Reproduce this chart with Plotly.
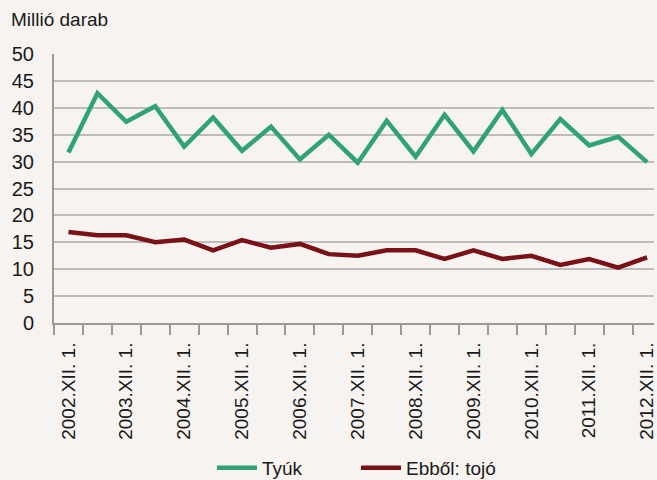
import plotly.graph_objects as go

categories = [
    "2002.XII. 1.", "2003.VI. 1.", "2003.XII. 1.", "2004.VI. 1.", "2004.XII. 1.",
    "2005.VI. 1.", "2005.XII. 1.", "2006.VI. 1.", "2006.XII. 1.", "2007.VI. 1.",
    "2007.XII. 1.", "2008.VI. 1.", "2008.XII. 1.", "2009.VI. 1.", "2009.XII. 1.",
    "2010.VI. 1.", "2010.XII. 1.", "2011.VI. 1.", "2011.XII. 1.", "2012.VI. 1.",
    "2012.XII. 1.",
]
tyuk = [31.7, 42.7, 37.4, 40.3, 32.8, 38.2, 32.0, 36.5, 30.4, 35.0,
        29.8, 37.6, 30.9, 38.7, 31.9, 39.6, 31.4, 37.9, 33.0, 34.6, 29.9]
tojo = [16.9, 16.3, 16.3, 15.0, 15.5, 13.5, 15.4, 14.0, 14.7, 12.8,
        12.5, 13.5, 13.5, 11.9, 13.5, 11.9, 12.5, 10.8, 11.9, 10.3, 12.2]
tick_text = [c if "XII" in c else "" for c in categories]
y_ticks = [0, 5, 10, 15, 20, 25, 30, 35, 40, 45, 50]

FONT = "Liberation Sans, Arial, sans-serif"
BG = "#f6f3f0"
TXT = "#1a1a1a"

fig = go.Figure()
fig.add_trace(go.Scatter(x=categories, y=tyuk, mode="lines", name="Tyúk",
                         line=dict(color="#2fa276", width=4.5)))
fig.add_trace(go.Scatter(x=categories, y=tojo, mode="lines", name="Ebből: tojó",
                         line=dict(color="#7a1116", width=4.5)))

fig.update_layout(
    width=657, height=480,
    paper_bgcolor=BG, plot_bgcolor=BG,
    font=dict(family=FONT, size=19, color=TXT),
    margin=dict(l=54, r=0, t=54, b=157),
    title=dict(text="Millió darab", x=11 / 657, xanchor="left",
               y=1 - 19 / 480, yanchor="middle", xref="container", yref="container",
               font=dict(family=FONT, size=19, color=TXT)),
    showlegend=True,
    legend=dict(orientation="h", xref="container", x=212 / 657, xanchor="left",
                y=12 / 480, yanchor="middle", yref="container",
                bgcolor="rgba(0,0,0,0)",
                font=dict(family=FONT, size=19, color=TXT),
                entrywidth=89, itemwidth=40),
    xaxis=dict(type="category", range=[-0.5, 20.24],
               tickmode="array", tickvals=categories, ticktext=tick_text,
               tickson="boundaries", ticks="outside", ticklen=10, tickwidth=2,
               tickcolor="#9a9a9a", tickangle=-90,
               showgrid=False, showline=True, linecolor="#9a9a9a", linewidth=2,
               zeroline=False, ticklabelstandoff=10,
               tickfont=dict(family=FONT, size=19, color=TXT)),
    yaxis=dict(range=[0, 50], tickmode="array", tickvals=y_ticks,
               showgrid=True, gridcolor="#bcbcbc", gridwidth=1.5,
               showline=True, linecolor="#9a9a9a", linewidth=2,
               zeroline=False, ticks="", ticklabelstandoff=14,
               tickfont=dict(family=FONT, size=20, color=TXT)),
)

fig.write_html("out.html",
               config={"displayModeBar": False},
               post_script="document.body.style.margin='0';"
                           "document.documentElement.style.overflow='hidden';")
